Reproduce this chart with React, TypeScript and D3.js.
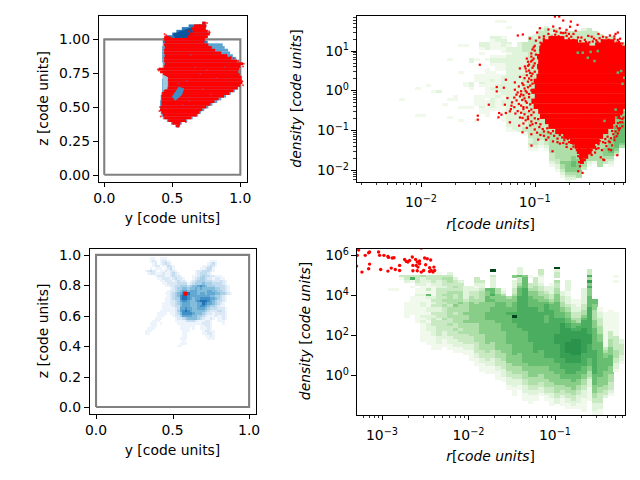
import React from "react";
import * as d3 from "d3";

// ---- data ----
type Pt = [number, number];
const unitTicks1X = [0, 0.5, 1];
const unitTicks1Y = [0, 0.25, 0.5, 0.75, 1];
const unitTicks3X = [0, 0.5, 1];
const unitTicks3Y = [0, 0.2, 0.4, 0.6, 0.8, 1];
const box: Pt[] = [[0, 0], [1, 0], [1, 1], [0, 1], [0, 0]];

// panel 1: rows of the projection: z, red left, red right, blue left, blue right
const rows1: [number, number, number, number, number][] = [
  [1.12,.72,.745,.72,.745],[1.10,.66,.75,.62,.75],[1.08,.645,.745,.57,.745],[1.06,.65,.76,.53,.76],[1.04,.625,.775,.50,.775],[1.02,.615,.76,.46,.76],
  [1.00,.44,.74,.43,.745],[.98,.445,.735,.43,.76],[.96,.44,.765,.43,.87],[.94,.445,.79,.425,.885],[.92,.44,.815,.425,.91],[.90,.44,.86,.425,.925],
  [.88,.445,.905,.425,.945],[.86,.44,.935,.425,.97],[.84,.44,.975,.425,.99],[.82,.445,1.02,.43,1.0],[.80,.44,1.0,.43,1.0],[.78,.40,.99,.43,1.0],
  [.76,.41,.985,.43,1.0],[.74,.43,.995,.43,1.0],[.72,.45,1.01,.43,1.0],[.70,.46,1.01,.425,1.0],[.68,.47,1.015,.425,1.0],[.66,.47,1.0,.425,1.0],
  [.64,.46,.98,.425,.985],[.62,.44,.95,.425,.96],[.60,.425,.92,.42,.93],[.58,.42,.88,.415,.895],[.56,.42,.84,.415,.86],[.54,.42,.81,.41,.83],
  [.52,.42,.78,.41,.795],[.50,.415,.75,.41,.765],[.48,.41,.72,.41,.735],[.46,.42,.70,.415,.71],[.44,.43,.68,.42,.69],[.42,.44,.64,.43,.65],
  [.40,.47,.60,.46,.61],[.38,.50,.56,.49,.57],[.36,.53,.55,.525,.555],
];
const gas1Dense: Pt[] = [[.50,1.04],[.645,1.09],[.66,1.0],[.53,1.0]];
const gas1PatchMid: Pt[] = [[.497,.576],[.547,.649],[.588,.637],[.571,.588],[.522,.546]];
const gas1PatchLight: Pt[] = [[.43,.74],[.468,.72],[.465,.635],[.43,.625]];
const red1TopLeft: Pt[] = [[.441,1.029],[.485,1.022],[.50,1.005],[.44,1.0]];
const gas1Specks: Pt[] = [[.60,.70],[.66,.80],[.70,.75],[.75,.78],[.57,.52],[.62,.55],[.54,.68],[.82,.72],[.72,.64],[.78,.60],[.88,.80],[.63,.89]];
const red1Fringe: Pt[] = [[.443,1.04],[.455,1.03],[.62,1.06],[.68,1.10],[.70,1.105],[.755,1.12],[.77,1.06],[.775,1.05],[1.02,.80],[1.025,.82],[1.015,.69],[1.02,.66],[.40,.77],[.395,.78],[.41,.50],[.405,.47],[.415,.43],[.53,.36],[.55,.365],[.60,.39],[.93,.87],[.95,.86],[.985,.84]];

// panel 3: cells of the projected gas, 37 columns by 39 rows
const cells3: string[] = [
  "0000000000000000000000000000000000000",
  "0000000000000000000000000000000000000",
  "0000000000000000000000000000000000000",
  "0000110011100000000000000000000000000",
  "0000121012210000000000000000111000000",
  "0000012012321000000000000001231000000",
  "0000012201132100000000000112321000000",
  "0000101110123100000000001123310000000",
  "0012321011212210000000122333210000000",
  "0001221112112321000000123332100000000",
  "0000001222112322100001123433221110000",
  "0000000112221232210001234432212211000",
  "0000000011222123221012344433322232100",
  "0000000001122223333123444544433332100",
  "0000000000112233444345567654443333210",
  "0000000000001234455455656555554433210",
  "0000000000012234566566655556655443210",
  "0000000000112345678866656656665544321",
  "0000000000012345788766666666554432100",
  "0000000000112344788765667777665432100",
  "0000000000112234677655678887654332100",
  "0000000001112234566655566876654321000",
  "0000000001111233566655567765443211000",
  "0000000001111123667665566654333222100",
  "0000000011111124678765555543222332100",
  "0000000111101123577776555432212222100",
  "0000000111000122466665544321112112100",
  "0000001110000012234555543211210112100",
  "0000011100000011112333211122100111000",
  "0000111010000001111111111222100001000",
  "0000111000000000111111001122100000000",
  "0001110000000000111101001112100000000",
  "0011100000000000011100000122110000000",
  "0011000000000000011000000112210000000",
  "0000000000000000011000000011210000000",
  "0000000000000000111000000001110000000",
  "0000000000000000010000000000000000000",
  "0000000000000000111000000000000000000",
  "0000000000000001100000000000000000000",
];
const redCell3: Pt = [0.583, 0.745];

// panel 2: density against radius, histogram columns as [first row, levels]
const h2Columns: [number, string][] = [[0,""],[0,""],[0,""],[0,""],[0,""],[0,""],[0,""],[0,""],
  [31,"1"],[0,""],[0,""],[27,"10000000001"],[37,"1"],[26,"1"],[28,"1"],[28,"2"],[33,"1"],
  [16,"10000000000000010000001"],[30,"11"],[11,"10000000001000000000000100001"],[11,"100000000000001100000001"],
  [16,"2200000002210000001"],[16,"100000111000001111000001"],[10,"221010000000111210001111211"],
  [10,"2220001000111111111110111111"],[8,"2111100122100111211211122221"],[2,"1000002211100122111011112221211111"],
  [2,"10000012221101221110122222221122111111"],[4,"1000002122122222222222222222222222222211"],[12,"22222222222222222222222222222221"],
  [10,"2222222222222222222222222222222222"],[10,"33332222222232323233332232323222331"],[8,"3333333333333333333333333333333333333322321"],
  [7,"22333333333333333333333333333333333333333321"],[5,"233333333333333333333333333333333333333433221"],[4,"23333333333333333333333333333333333333344443321"],
  [5,"2233333333333333333333333333333333333334444444433321"],[5,"233333333333333333333333333333333333344444444444433221"],[6,"3333333333333333333333333333333333333444444444444544321"],
  [6,"333333333333333333333333333333333333334444444444455554321"],[6,"33333333333333333333333333333333334444444444444556655432"],[6,"3333333333333333333333333333333333344444444444445555544"],
  [5,"23333333333333333333333333333333344444444444444454443"],[5,"3333333333333333333333333333333334444444444444444421"],[6,"33333333333333333333333333333333344444444444444441"],
  [7,"33333333333333333333333333333344444444444444444444"],[8,"333333333333333333333333334444444444444444555433"],[8,"3333333333333333333333334444444444444455556654321"],
  [9,"33333333333333333333333444444455556666666543"],[10,"3333333333333333333344444455556666666654"],
];
// dense red bands: log density, log r left, log r right
const red2Rows: [number, number, number][] = [
  [1.30,-.88,-.74],[1.22,-.93,-.62],[1.22,-.42,-.30],[1.14,-.95,-.52],[1.14,-.47,-.24],[1.06,-.96,-.207],[.98,-.96,-.207],[.85,-.98,-.207],[.73,-.97,-.207],[.60,-.98,-.207],[.48,-.97,-.207],[.35,-.985,-.207],
  [.23,-1.01,-.207],[.10,-1.0,-.207],[-.02,-1.03,-.207],[-.15,-1.0,-.207],[-.27,-1.03,-.207],[-.40,-1.01,-.207],[-.52,-.97,-.222],[-.65,-.955,-.25],[-.78,-.91,-.295],
  [-.90,-.88,-.31],[-1.03,-.82,-.354],[-1.15,-.75,-.40],[-1.28,-.69,-.43],[-1.40,-.65,-.47],[-1.53,-.63,-.50],[-1.65,-.61,-.53],[-1.78,-.603,-.568],
];
const red2Scatter: Pt[] = [[-1.483,.645],[-1.501,-.634],[-1.501,-.734],[-1.404,-.358],[-1.334,.085],[-1.334,-.024],[-1.272,.068],[-1.254,.269],[-1.175,.202],[-1.149,1.38],[-1.105,1.405],[-1.043,1.305],[-.979,1.455],[-.955,1.564],[-1.131,.553],[-1.087,.603],[-1.073,.478],[-1.032,.728],[-1.060,.62],[-1.313,-.567],[-1.319,-.675],[-1.293,-.609],[-1.254,-.567],[-1.219,-.525],[-1.219,-.801],[-1.263,-.358],[-1.205,-.383],[-1.175,.018],[-1.161,-.107],[-1.240,-.191],[-1.137,-.884],[-1.108,-.692],[-1.108,-1.051],[-1.029,-1.385],[-.970,-1.235],[-.844,-1.528],[-.275,-1.628],[-.398,-1.736],[-.779,-1.335],[-.721,-1.344],[-.618,-1.653],[-.603,-1.904],[-.580,-2.07],[-.618,-2.03],[-.823,1.856],[-.785,1.856],[-.750,1.756],[-.838,1.605],[-.683,1.73],[-.624,1.647],[-.721,1.522],[-.78,1.56],[-.81,1.48],[-.75,1.44],[-.69,1.60],[-.66,1.42],[-.53,1.37],[-.40,1.35],[-.27,1.455],[-.27,1.27],[-.35,1.27],[-.43,1.31],[-.49,1.23],[-.95,1.20],[-1.0,1.12],[-1.02,1.03],[-1.03,.85],[-1.06,.72],[-1.01,.62],[-1.05,.50],[-1.02,.42],[-1.09,.31],[-1.03,.26],[-1.11,.18],[-1.04,.12],[-1.09,.05],[-1.12,-.02],[-1.05,-.09],[-1.13,-.15],[-1.09,-.2],[-1.16,-.25],[-1.07,-.31],[-1.12,-.38],[-1.18,-.42],[-1.1,-.47],[-1.05,-.52],[-1.15,-.52],[-1.09,-.6],[-1.03,-.62],[-1.0,-.7],[-1.08,-.75],[-.99,-.82],[-1.04,-.88],[-.96,-.92],[-1.0,-.98],[-.92,-1.03],[-.95,-1.12],[-.86,-1.08],[-.88,-1.18],[-.80,-1.21],[-.74,-1.25],[-.70,-1.3],[-.66,-1.41],[-.61,-1.45],[-.57,-1.55],[-.6,-1.7],[-.56,-1.75],[-.61,-1.8],[-.5,-1.5],[-.47,-1.42],[-.44,-1.35],[-.41,-1.5],[-.37,-1.4],[-.38,-1.22],[-.33,-1.2],[-.31,-1.1],[-.29,-1.03],[-.26,-1.0],[-.28,-.9],[-.25,-.8],[-.23,-.72],[-.24,-.6],[-.22,-.68],
  [-.99,1.25],[-.96,1.33],[-.92,1.30],[-.88,1.42],[-.85,1.35],[-.82,1.40],[-.79,1.36],[-.76,1.32],[-.72,1.37],[-.70,1.30],[-.66,1.27],[-.62,1.33],[-.60,1.24],[-.56,1.27],[-.52,1.21],[-.48,1.30],[-.45,1.22],[-.41,1.26],[-.38,1.21],[-.33,1.24],[-.30,1.30],[-.28,1.20],[-.24,1.12],[-.26,1.22],
  [-1.00,1.00],[-.99,.90],[-1.01,.80],[-1.00,.68],[-1.02,.57],[-1.00,.47],[-1.03,.36],[-1.05,.30],[-1.02,.17],[-1.06,.08],[-1.03,.00],[-1.07,-.05],[-1.10,-.12],[-1.05,-.17],[-1.08,-.27],[-1.04,-.35],[-1.07,-.43],[-1.03,-.48],[-1.01,-.55],[-1.06,-.66],[-.97,-.72],[-1.03,-.78],[-.95,-.85],[-.93,-.97],[-.89,-.95],[-.88,-1.05],[-.84,-1.02],[-.83,-1.14],[-.78,-1.12],[-.76,-1.18],[-.71,-1.22],[-.68,-1.26],[-.66,-1.34],
  [-.63,-1.50],[-.59,-1.60],[-.55,-1.62],[-.53,-1.45],[-.51,-1.38],[-.48,-1.33],[-.46,-1.47],[-.43,-1.27],[-.40,-1.30],[-.35,-1.28],[-.36,-1.16],[-.32,-1.02],[-.30,-.93],[-.27,-.95],[-.27,-.82],[-.25,-.70],[-.23,-.80],[-.35,-1.48],[-.33,-1.50],[-.42,-1.68],[-.39,-1.75],
  [-1.01,1.08],[-1.03,.93],[-1.07,.80],[-1.02,.76],[-1.05,.65],[-1.08,.55],[-1.04,.44],[-1.07,.38],[-1.13,.34],[-1.06,.22],[-1.14,.10],[-1.10,.14],[-1.08,-.01],[-1.15,-.05],[-1.12,-.10],[-1.18,-.18],[-1.11,-.24],[-1.20,-.30],[-1.14,-.34],[-1.10,-.42],[-1.21,-.47],[-1.17,-.58],[-1.12,-.56],[-1.13,-.68],[-1.06,-.72],[-1.10,-.83],[-1.02,-.85],[-1.07,-.94],[-.98,-1.06],[-1.03,-1.10],[-.92,-1.14],[-.90,-1.24],[-.84,-1.28],[-.80,-1.30],[-.75,-1.32],[-.72,-1.42],[-.68,-1.47],
  [-.92,1.36],[-.86,1.30],[-.83,1.50],[-.80,1.30],[-.77,1.45],[-.73,1.45],[-.68,1.35],[-.64,1.50],[-.59,1.33],[-.55,1.22],[-.50,1.35],[-.46,1.26],[-.37,1.33],[-.34,1.38],[-.30,1.36],[-.25,1.30],[-.23,1.18],[-.29,1.42],[-.44,1.42],[-.88,1.53],[-.70,1.42],
  [-.44,-1.45],[-.38,-1.32],[-.34,-1.30],[-.30,-1.25],[-.32,-1.38],[-.28,-1.15],[-.30,-1.18],[-.27,-1.08],[-.25,-.95],[-.23,-.90],[-.52,-1.58],[-.50,-1.62],[-.47,-1.56],
];
const gaps2: Pt[] = [[-.589,.979],[-.545,.853],[-.486,.77],[-.281,.478],[-.252,.519],[-.296,-.65],[-.31,-.9],[-.633,.979],[-.457,1.02],[-.398,-.734],[-.24,.2],[-.225,.35],[-.30,-.45],[-.52,1.0]];

// panel 4: density against radius for the second output
const h4Columns: [number, string][] = [[0,""],[0,""],[0,""],[0,""],[0,""],[0,""],
  [15,"1"],[15,"1"],[10,"31"],[10,"3320000000111111"],[10,"371010001111111"],[10,"333201121111111111"],[10,"4222111211221112121111111"],
  [10,"33211316211122122122211111"],[10,"3332111123232232333222211111"],[9,"13322233333332233233333322211"],[10,"343323343434333343333222111"],
  [9,"23443334444434444334333322211"],[11,"2334343344544344433433322211"],[12,"233344445444444444343332211"],[14,"22222344445445444433332211"],
  [14,"2233445555555544444333221111"],[11,"332123334455555554444444333322111"],[12,"3223444455555555555544444433322111"],[15,"65566555566655555555544433322111"],
  [8,"a03222266756556666655555555444333222111"],[15,"4455566666666555555555544433322111"],[15,"12455666666666665555555544433322211"],[18,"45556676666666666655555554443322211"],
  [10,"50222334556666" + "7a" + "77666666666666555544433222111"],[7,"2226334566677777777777766666666655555444332211"],[10,"56666777777777777777766666666666655544433222111"],
  [10,"100334556666777777777777766666666655554443322111"],[11,"3334455566677777777777777777666665555444332211"],[8,"33211233445566667777777777777766666655544433221"],
  [14,"2234456777766677777777777776665555544433211"],[13,"1222334566777777777777777777666665555443322111"],[7,"a23304334455566666677777788887777777666655554443322"],
  [16,"2233445566778888888888888777766665544332111"],[12,"222211222344556677888889999888877776655544332211"],[19,"11222334566788899999988877776665554433221"],
  [19,"11122334467788899999988877766655443322211"],[15,"2222223344567778888888887777766655443322211111"],[8,"3374857555666677777777778888777776665544322211111"],
  [19,"66554444555666666667777777776666555443322211"],[22,"11223334445556666666666666555544333322111"],[24,"11111111111113455666665555544332"],
  [23,"11111111333444555666655544433321"],[10,"1010000000000011111111133333444332210"],[34,"223333221"],
];
const red4Points: Pt[] = [[-3.270,6.269],[-3.285,6.001],[-3.193,6.001],[-3.143,6.168],[-3.154,6.135],[-3.039,6.168],[-3.027,6.001],[-2.977,6.001],[-2.931,5.950],[-2.923,5.900],[-2.861,5.883],[-2.881,5.866],[-2.738,5.799],[-2.719,5.699],[-2.700,5.665],[-2.680,5.749],[-2.649,5.917],[-2.611,5.799],[-2.565,5.715],[-2.592,5.665],[-2.507,5.866],[-2.476,5.833],[-2.437,5.766],[-2.545,6.370],[-2.796,5.497],[-2.642,5.497],[-2.584,5.413],[-2.495,5.531],[-2.449,5.380],[-2.399,5.413],[-2.430,5.246],[-2.391,5.246],[-2.410,5.162],[-2.449,5.195],[-2.518,5.246],[-2.545,5.162],[-2.592,5.229],[-2.642,5.229],[-2.796,5.246],[-2.846,5.296],[-2.892,5.363],[-2.931,5.212],[-3.015,5.296],[-3.154,5.330],[-3.143,5.564],[-3.231,5.162],[-3.293,5.464],[-2.565,5.581],[-2.603,5.497]];

const xTicks2 = [-2, -1];
const yTicks2 = [-2, -1, 0, 1];
const xTicks4 = [-3, -2, -1];
const yTicks4 = [0, 2, 4, 6];

// ---- helpers ----
const FONT = "'DejaVu Sans'";
const levels: Record<string, number> = { "1": .05, "2": .14, "3": .24, "4": .33, "5": .44, "6": .53, "7": .61, "8": .67, "9": .72, a: 1 };
const blues: Record<string, string> = { "1": "#edf4fb", "2": "#dbe9f6", "3": "#c4dcef", "4": "#a8cfe5", "5": "#84bcdc", "6": "#62a8d2", "7": "#4090c7", "8": "#2171b5" };
const frames = {
  a: { l: 98, r: 247, t: 15, b: 182 },
  b: { l: 356, r: 625, t: 15, b: 182 },
  c: { l: 89, r: 256, t: 248, b: 414 },
  d: { l: 356, r: 625, t: 248, b: 415 },
};
type Frame = { l: number; r: number; t: number; b: number };

function Spines({ f }: { f: Frame }) {
  return <rect x={f.l + .5} y={f.t + .5} width={f.r - f.l} height={f.b - f.t} fill="none" stroke="#000" strokeWidth={1.1} shapeRendering="crispEdges" />;
}
const sn = (v: number) => Math.round(v) + .5;

function LinTicks({ f, x, y, xt, yt, xf, yf }: any) {
  return <g fontFamily={FONT} fontSize={13.9} fill="#000">
    {xt.map((t: number) => <g key={t}>
      <line x1={sn(x(t))} x2={sn(x(t))} y1={f.b} y2={f.b + 5.4} stroke="#000" strokeWidth={1.1} shapeRendering="crispEdges" />
      <text x={x(t)} y={f.b + 21} textAnchor="middle">{xf(t)}</text>
    </g>)}
    {yt.map((t: number) => <g key={t}>
      <line x1={f.l - 4.9} x2={f.l} y1={sn(y(t))} y2={sn(y(t))} stroke="#000" strokeWidth={1.1} shapeRendering="crispEdges" />
      <text x={f.l - 8} y={y(t) + 5} textAnchor="end">{yf(t)}</text>
    </g>)}
  </g>;
}
function Pow({ x, y, e, anchor }: { x: number; y: number; e: number; anchor: string }) {
  const s = e < 0 ? "\u2212" + -e : String(e);
  return <text x={x} y={y} textAnchor={anchor as any} fontFamily={FONT} fontSize={13.9}>10<tspan dy={-5.5} fontSize={9.7}>{s}</tspan></text>;
}
function LogTicks({ f, x, y, xt, yt, xMinor, yMinor }: any) {
  return <g>
    {xMinor.map((t: number, i: number) => <line key={i} x1={sn(x(t))} x2={sn(x(t))} y1={f.b} y2={f.b + 3.3} stroke="#000" strokeWidth={.8} shapeRendering="crispEdges" />)}
    {yMinor.map((t: number, i: number) => <line key={i} x1={f.l - 2.8} x2={f.l} y1={sn(y(t))} y2={sn(y(t))} stroke="#000" strokeWidth={.8} shapeRendering="crispEdges" />)}
    {xt.map((e: number) => <g key={e}>
      <line x1={sn(x(10 ** e))} x2={sn(x(10 ** e))} y1={f.b} y2={f.b + 5.4} stroke="#000" strokeWidth={1.1} shapeRendering="crispEdges" />
      <Pow x={x(10 ** e)} y={f.b + 25} e={e} anchor="middle" />
    </g>)}
    {yt.map((e: number) => <g key={e}>
      <line x1={f.l - 4.9} x2={f.l} y1={sn(y(10 ** e))} y2={sn(y(10 ** e))} stroke="#000" strokeWidth={1.1} shapeRendering="crispEdges" />
      <Pow x={f.l - 7} y={y(10 ** e) + 5} e={e} anchor="end" />
    </g>)}
  </g>;
}
function minors(lo: number, hi: number) {
  const o: number[] = [];
  for (let d = lo; d <= hi; d++) for (let m = 2; m < 10; m++) o.push(m * 10 ** d);
  return o;
}
function Heat({ cols, x, y, rowStart, rowStep, colStart, colStep }: any) {
  const cells: any[] = [];
  cols.forEach(([start, s]: [number, string], i: number) => {
    for (let k = 0; k < s.length; k++) {
      const ch = s[k];
      if (ch === "0") continue;
      const j = start + k;
      const x0 = x(10 ** (colStart + i * colStep)), x1 = x(10 ** (colStart + (i + 1) * colStep));
      const y0 = y(10 ** (rowStart - j * rowStep)), y1 = y(10 ** (rowStart - (j + 1) * rowStep));
      cells.push(<rect key={i + "-" + j} x={x0} y={y0} width={x1 - x0 + .3} height={y1 - y0 + .3} fill={d3.interpolateGreens(levels[ch])} shapeRendering="crispEdges" />);
    }
  });
  return <g>{cells}</g>;
}
const axisLabel = (cx: number, cy: number, rot: boolean, kids: any) =>
  <text transform={rot ? `translate(${cx},${cy}) rotate(-90)` : `translate(${cx},${cy})`} textAnchor="middle" fontFamily={FONT} fontSize={13.9}>{kids}</text>;
const it = { fontStyle: "italic" as const };
const MathLabelR = <><tspan {...it}>r</tspan>[<tspan {...it}>code units</tspan>]</>;
const MathLabelD = <><tspan {...it}>density</tspan> [<tspan {...it}>code units</tspan>]</>;

export default function App() {
  const fa = frames.a, fb = frames.b, fc = frames.c, fd = frames.d;
  const xa = d3.scaleLinear().domain([-0.046, 1.049]).range([fa.l, fa.r]);
  const ya = d3.scaleLinear().domain([-0.054, 1.18]).range([fa.b, fa.t]);
  const xc = d3.scaleLinear().domain([-0.046, 1.045]).range([fc.l, fc.r]);
  const yc = d3.scaleLinear().domain([-0.046, 1.045]).range([fc.b, fc.t]);
  const xb = d3.scaleLog().domain([10 ** -2.571, 10 ** -0.207]).range([fb.l, fb.r]);
  const yb = d3.scaleLog().domain([10 ** -2.30, 10 ** 1.895]).range([fb.b, fb.t]);
  const xd = d3.scaleLog().domain([10 ** -3.30, 10 ** -0.19]).range([fd.l, fd.r]);
  const yd = d3.scaleLog().domain([10 ** -2.0, 10 ** 6.37]).range([fd.b, fd.t]);

  const la = d3.line().x(d => xa(d[0])).y(d => ya(d[1]));

  const cellW = 0.0163, cellH = 0.0164, cellX0 = 0.2856, cellZ0 = 1.033;
  const rowH1 = 0.021;

  return (
    <svg width={640} height={480} style={{ position: "absolute", left: 0, top: 0, display: "block" }}>
      <defs>
        {Object.entries(frames).map(([k, f]) => <clipPath key={k} id={"clip-" + k}><rect x={f.l} y={f.t} width={f.r - f.l} height={f.b - f.t} /></clipPath>)}
      </defs>
      <rect width={640} height={480} fill="#fff" />

      {/* panel 1 */}
      <g clipPath="url(#clip-a)">
        {rows1.map((r, i) => <rect key={i} x={xa(r[3])} y={ya(r[0] + rowH1 / 2)} width={xa(r[4]) - xa(r[3])} height={ya(0) - ya(rowH1)} fill={i < 8 ? "#2c7cba" : "#5aa2cf"} />)}
        <path d={la(gas1Dense)! + "Z"} fill="#0b559f" />
        <path d={la(box)!} fill="none" stroke="#808080" strokeWidth={2.1} />
        {rows1.map((r, i) => <rect key={i} x={xa(r[1])} y={ya(r[0] + rowH1 / 2)} width={xa(r[2]) - xa(r[1])} height={ya(0) - ya(rowH1)} fill="#ff0000" />)}
        <path d={la(red1TopLeft)! + "Z"} fill="#ff0000" />
        <path d={la(gas1PatchMid)! + "Z"} fill="#3f8fc5" />
        <path d={la(gas1PatchLight)! + "Z"} fill="#9ecae1" />
        {gas1Specks.map((p, i) => <rect key={i} x={xa(p[0])} y={ya(p[1])} width={1.6} height={1.6} fill="#c8304a" />)}
        {red1Fringe.map((p, i) => <circle key={i} cx={xa(p[0])} cy={ya(p[1])} r={1} fill="#ff0000" opacity={.8} />)}
      </g>
      <Spines f={fa} />
      <LinTicks f={fa} x={xa} y={ya} xt={unitTicks1X} yt={unitTicks1Y} xf={d3.format(".1f")} yf={d3.format(".2f")} />
      {axisLabel(172.5, 223, false, "y [code units]")}
      {axisLabel(48, 98.5, true, "z [code units]")}

      {/* panel 2 */}
      <g clipPath="url(#clip-b)">
        <Heat cols={h2Columns} x={xb} y={yb} rowStart={1.895} rowStep={.0669} colStart={-2.571} colStep={.04715} />
        {red2Rows.map((r, i) => <rect key={i} x={xb(10 ** r[1])} y={yb(10 ** (r[0] + .066))} width={xb(10 ** r[2]) - xb(10 ** r[1])} height={yb(10 ** (r[0] - .066)) - yb(10 ** (r[0] + .066))} fill="#ff0000" />)}
        {red2Scatter.map((p, i) => <rect key={i} x={xb(10 ** p[0]) - 1.1} y={yb(10 ** p[1]) - 1.1} width={2.2} height={2.2} fill="#ff0000" />)}
        {gaps2.map((p, i) => <rect key={i} x={xb(10 ** p[0])} y={yb(10 ** p[1])} width={2.5} height={2.5} fill="#63b472" />)}
      </g>
      <Spines f={fb} />
      <LogTicks f={fb} x={xb} y={yb} xt={xTicks2} yt={yTicks2} xMinor={minors(-3, -1).filter(v => v > 10 ** -2.571 && v < 10 ** -0.207)} yMinor={minors(-3, 1).filter(v => v > 10 ** -2.3 && v < 10 ** 1.895)} />
      {axisLabel(490.5, 229, false, MathLabelR)}
      {axisLabel(301, 98.5, true, MathLabelD)}

      {/* panel 3 */}
      <g clipPath="url(#clip-c)">
        {cells3.map((row, r) => row.split("").map((ch, c) => ch === "0" ? null :
          <rect key={r + "-" + c} x={xc(cellX0 + c * cellW)} y={yc(cellZ0 - r * cellH)} width={xc(cellW) - xc(0) + .2} height={yc(0) - yc(cellH) + .2} fill={blues[ch]} shapeRendering="crispEdges" />))}
        <path d={d3.line().x((d: any) => xc(d[0])).y((d: any) => yc(d[1]))(box as any)!} fill="none" stroke="#808080" strokeWidth={2.1} />
        <rect x={xc(redCell3[0]) - 2} y={yc(redCell3[1]) - 2} width={4} height={4} fill="#ff0000" />
      </g>
      <Spines f={fc} />
      <LinTicks f={fc} x={xc} y={yc} xt={unitTicks3X} yt={unitTicks3Y} xf={d3.format(".1f")} yf={d3.format(".1f")} />
      {axisLabel(172.5, 455, false, "y [code units]")}
      {axisLabel(48, 331, true, "z [code units]")}

      {/* panel 4 */}
      <g clipPath="url(#clip-d)">
        <Heat cols={h4Columns} x={xd} y={yd} rowStart={6.37} rowStep={.1343} colStart={-3.30} colStep={.062} />
        {red4Points.map((p, i) => <circle key={i} cx={xd(10 ** p[0])} cy={yd(10 ** p[1])} r={1.7} fill="#ff0000" />)}
      </g>
      <Spines f={fd} />
      <LogTicks f={fd} x={xd} y={yd} xt={xTicks4} yt={yTicks4} xMinor={minors(-4, -1).filter(v => v > 10 ** -3.3 && v < 10 ** -0.19)} yMinor={[]} />
      {axisLabel(490.5, 461, false, MathLabelR)}
      {axisLabel(310, 331, true, MathLabelD)}
    </svg>
  );
}
